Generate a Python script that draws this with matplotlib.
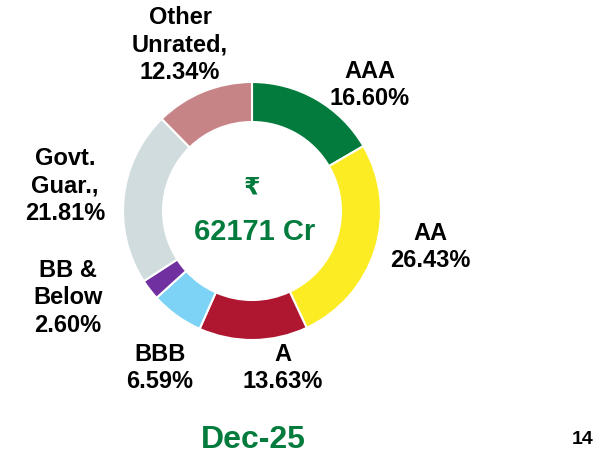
import matplotlib
matplotlib.use('Agg')
import matplotlib.pyplot as plt

# Credit rating mix of the portfolio, Dec-25
ratings = ['AAA', 'AA', 'A', 'BBB', 'BB & Below', 'Govt. Guar.', 'Other Unrated']
shares = [16.60, 26.43, 13.63, 6.59, 2.60, 21.81, 12.34]
colors = ['#037B3D', '#FCEC24', '#AF1730', '#7CD3F6', '#7030A0', '#D1DCDF', '#C78486']
label_text = ['AAA\n{:.2f}%', 'AA\n{:.2f}%', 'A\n{:.2f}%', 'BBB\n{:.2f}%',
              'BB &\nBelow\n{:.2f}%', 'Govt.\nGuar.,\n{:.2f}%', 'Other\nUnrated,\n{:.2f}%']
total_cr = 62171
period = 'Dec-25'
page_no = '14'

W, H = 612, 455
green = '#037B3D'
font = ['Liberation Sans', 'DejaVu Sans']

fig = plt.figure(figsize=(W / 100, H / 100), dpi=100)
ax = fig.add_axes([0, 0, 1, 1])

cx, cy = 252, H - 211
ax.pie(shares, colors=colors, startangle=90, counterclock=False,
       radius=129, center=(cx, cy),
       wedgeprops=dict(width=40, edgecolor='white', linewidth=1.5))
ax.set_xlim(0, W)
ax.set_ylim(0, H)
ax.axis('off')

# label positions (pixels from top-left)
label_pos = [(370, 85), (430, 247), (283, 368), (160, 368),
             (68, 298), (65, 186), (180, 45)]
for txt, val, (x, y) in zip(label_text, shares, label_pos):
    ax.text(x, H - y, txt.format(val), ha='center', va='center',
            fontsize=17, fontweight='bold', family=font, linespacing=1.24)

ax.text(252, H - 188, '\u20b9', ha='center', va='center', color=green,
        fontsize=17, fontweight='bold', family=font)
ax.text(255, H - 232, f'{total_cr} Cr', ha='center', va='center', color=green,
        fontsize=21, fontweight='bold', family=font)
ax.text(253, H - 440, period, ha='center', va='center', color=green,
        fontsize=23, fontweight='bold', family=font)
ax.text(583, H - 440, page_no, ha='center', va='center', color='black',
        fontsize=14, fontweight='bold', family=font)

fig.savefig('out.png', dpi=100)
